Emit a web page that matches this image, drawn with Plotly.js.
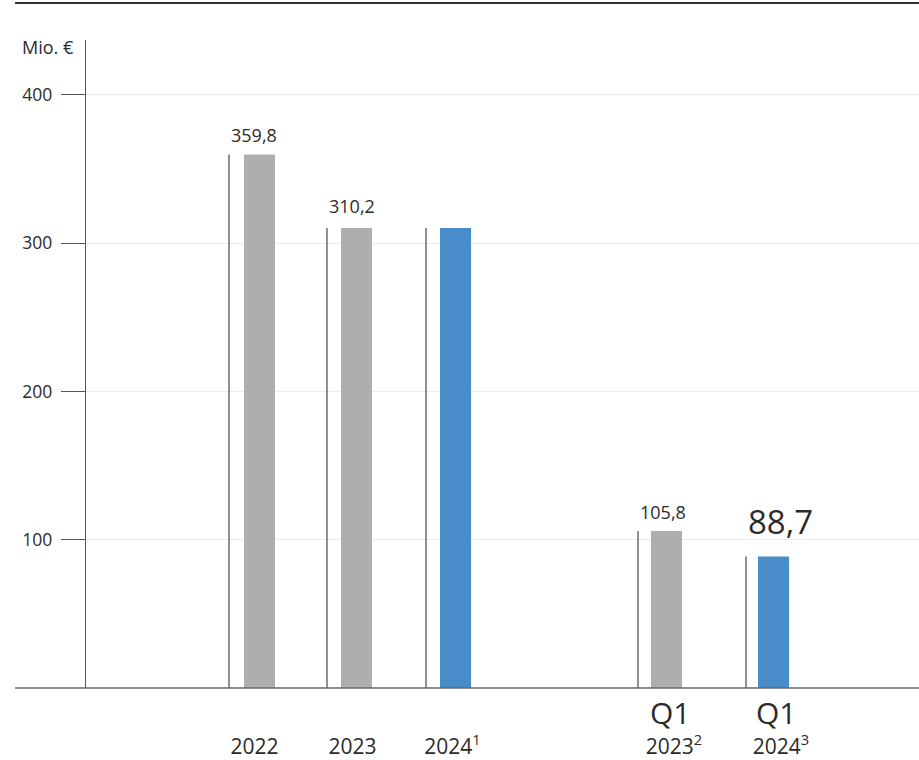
<!DOCTYPE html>
<html>
<head>
<meta charset="utf-8">
<script src="https://cdn.plot.ly/plotly-3.0.1.min.js"></script>
<style>
html,body{margin:0;padding:0;background:#fff;}
#chart{width:919px;height:760px;}
</style>
</head>
<body>
<div id="chart"></div>
<script>
// ---- data ----
const categories = ["2022", "2023", "2024", "Q1 2023", "Q1 2024"];
const values = [359.8, 310.2, 310.2, 105.8, 88.7];
const valueLabels = ["359,8", "310,2", "", "105,8", "88,7"];
const tickLabels = ["2022", "2023", "2024<sup>1</sup>", "2023<sup>2</sup>", "2024<sup>3</sup>"];
const periodLabels = ["", "", "", "Q1", "Q1"];
const yTicks = [100, 200, 300, 400];
const yUnit = "Mio. €";

// ---- layout constants (positions / styles) ----
const barX = [173.5, 270.5, 369.5, 580.5, 687.5];
const lineX = [143, 241, 340, 552, 660];
const tickX = [168.5, 266.5, 366.5, 588, 695];
const periodX = [0, 0, 0, 584, 690];
const barColors = ["#adaeb0", "#adaeb0", "#488cca", "#adaeb0", "#488cca"];
const labelSizes = [18, 18, 18, 18, 33];
const labelShift = [19, 22, 19, 19, 35];
const FONT = "Open Sans, Noto Sans, sans-serif";
const TXT = "#2b2b2b";

const trace = {
  type: "bar",
  x: barX,
  y: values,
  width: 31,
  marker: { color: barColors, line: { width: 0 } },
  text: categories,
  hoverinfo: "text+y",
  textposition: "none"
};

const shapes = [];
values.forEach((v, i) => {
  shapes.push({ type: "line", xref: "x", yref: "y", x0: lineX[i], x1: lineX[i], y0: 0, y1: v,
    line: { color: "#555", width: 1.3 } });
});
// baseline
shapes.push({ type: "line", xref: "paper", yref: "paper", x0: -0.0852, x1: 1, y0: 0, y1: 0,
  line: { color: "#666", width: 1.5 } });
// top rule
shapes.push({ type: "line", xref: "paper", yref: "paper", x0: -0.0852, x1: 1, y0: 1.0571, y1: 1.0571,
  line: { color: "#333", width: 2 } });

const annotations = [];
values.forEach((v, i) => {
  if (valueLabels[i]) {
    annotations.push({ xref: "x", yref: "y", x: lineX[i], y: v, xanchor: "left", yanchor: "middle",
      yshift: labelShift[i], text: valueLabels[i], showarrow: false,
      font: { family: FONT, size: labelSizes[i], color: TXT } });
  }
  if (periodLabels[i]) {
    annotations.push({ xref: "x", yref: "paper", x: periodX[i], y: -0.0375, xanchor: "center", yanchor: "middle",
      text: periodLabels[i], showarrow: false, font: { family: FONT, size: 30, color: TXT } });
  }
});
annotations.push({ xref: "paper", yref: "paper", x: -0.0120, y: 0.989, xanchor: "right", yanchor: "middle",
  text: yUnit, showarrow: false, font: { family: FONT, size: 18, color: TXT } });

const layout = {
  width: 919, height: 760,
  margin: { l: 86, r: 0, t: 40, b: 72, pad: 0 },
  paper_bgcolor: "#fff", plot_bgcolor: "#fff",
  showlegend: false,
  font: { family: FONT, color: TXT },
  xaxis: {
    range: [0, 833], fixedrange: true,
    showgrid: false, zeroline: false, showline: false,
    tickmode: "array", tickvals: tickX, ticktext: tickLabels,
    ticks: "", ticklabelstandoff: 44,
    tickfont: { family: FONT, size: 21, color: TXT }
  },
  yaxis: {
    range: [0, 437], fixedrange: true,
    tickmode: "array", tickvals: yTicks, ticktext: yTicks.map(String),
    ticks: "outside", ticklen: 24, tickcolor: "#555", tickwidth: 1,
    ticklabelstandoff: 5,
    showline: true, linecolor: "#555", linewidth: 1.3,
    showgrid: true, gridcolor: "#ececec", gridwidth: 1,
    zeroline: false,
    tickfont: { family: FONT, size: 17.5, color: TXT }
  },
  shapes: shapes,
  annotations: annotations
};

Plotly.newPlot("chart", [trace], layout, { displayModeBar: false, staticPlot: true });
</script>
</body>
</html>
